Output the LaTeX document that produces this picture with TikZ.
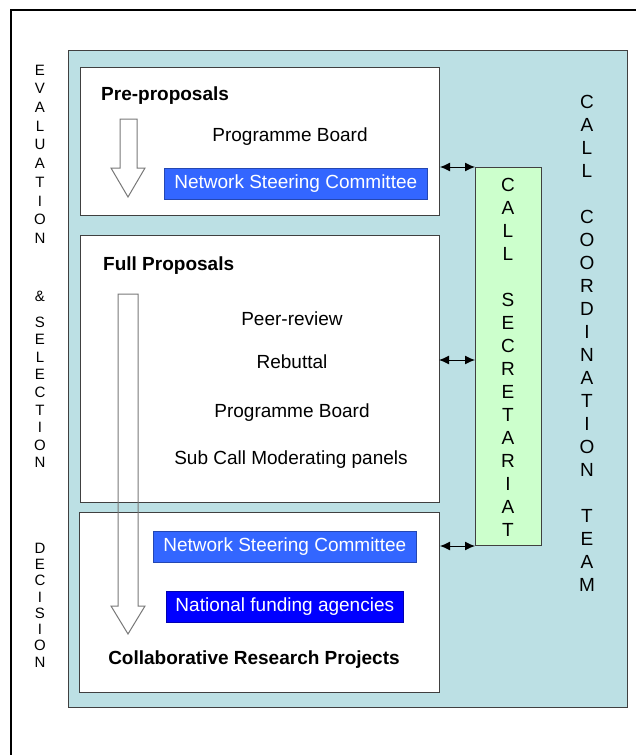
\documentclass[tikz,border=0pt]{standalone}
\usepackage{fontspec}
\setmainfont{Liberation Sans}
\usetikzlibrary{arrows.meta}
\definecolor{tealbg}{RGB}{188,224,228}
\definecolor{secbg}{RGB}{204,255,204}
\definecolor{nscblue}{RGB}{51,102,255}
\definecolor{nfablue}{RGB}{0,0,255}
\definecolor{edgegray}{RGB}{64,64,64}
\definecolor{arrowgray}{RGB}{120,120,120}
\begin{document}
\begin{tikzpicture}[x=1pt,y=-1pt,
  panel/.style={draw=edgegray, line width=1pt, fill=white, anchor=north west, inner sep=0pt},
  bluebox/.style={draw=#1!70!black, line width=0.6pt, fill=#1, anchor=north west, inner sep=0pt, text=white, font=\fontsize{19}{23}\selectfont},
  txt/.style={anchor=base, inner sep=0pt, font=\fontsize{19}{23}\selectfont},
  boldtxt/.style={inner sep=0pt, font=\fontsize{19}{23}\selectfont\bfseries},
  letter/.style={anchor=center, inner sep=0pt, font=\fontsize{19}{23}\selectfont},
  smallletter/.style={anchor=center, inner sep=0pt, font=\fontsize{15}{18}\selectfont},
  dbl/.style={{Latex[length=10pt,width=9pt]}-{Latex[length=10pt,width=9pt]}, line width=1pt, black},
  hollow/.style={draw=arrowgray, line width=1pt}
]
\useasboundingbox (0,0) rectangle (636,755);
% outer frame (only left and top edges visible)
\draw[line width=1.2pt, black] (11,755) -- (11,10) -- (636,10);
% teal background
\node[draw=edgegray, line width=1pt, fill=tealbg, anchor=north west, inner sep=0pt,
      minimum width=559pt, minimum height=657pt] (team) at (68,50) {};
% panels
\node[panel, minimum width=359pt, minimum height=148pt] (pre) at (80,67) {};
\node[panel, minimum width=359pt, minimum height=267pt] (full) at (80,235) {};
\node[panel, minimum width=360pt, minimum height=180pt] (dec) at (79,512) {};
% call secretariat
\node[draw=edgegray, line width=1pt, fill=secbg, anchor=north west, inner sep=0pt,
      minimum width=66pt, minimum height=378pt] (sec) at (475,167) {};
% pre-proposals content
\node[boldtxt, anchor=base west] (pretitle) at (101,100) {Pre-proposals};
\node[txt] (pb1) at (290,141) {Programme Board};
\node[bluebox=nscblue, minimum width=263pt, minimum height=31pt] (nsc1) at (164,168) {Network Steering Committee};
% full proposals content
\node[boldtxt, anchor=base west] (fulltitle) at (103,270) {Full Proposals};
\node[txt] (peer) at (292,325) {Peer-review};
\node[txt] (reb) at (292,368) {Rebuttal};
\node[txt] (pb2) at (292,417) {Programme Board};
\node[txt] (sub) at (291,464) {Sub Call Moderating panels};
% decision content
\node[bluebox=nscblue, minimum width=263pt, minimum height=31pt] (nsc2) at (153,531) {Network Steering Committee};
\node[bluebox=nfablue, minimum width=237pt, minimum height=31pt] (nfa) at (166,591) {National funding agencies};
\node[boldtxt, anchor=base] (crp) at (254,664) {Collaborative Research Projects};
% hollow arrows
\draw[hollow] (120,119) -- (137,119) -- (137,168) -- (145,168) -- (128,197) -- (111,168) -- (120,168) -- cycle;
\draw[hollow] (118,294) -- (138,294) -- (138,606) -- (145,606) -- (128,634) -- (111,606) -- (118,606) -- cycle;
% double arrows between panels and secretariat
\draw[dbl] (pre.east |- sec.north west) -- (sec.north west);
\coordinate (midA) at (439,360);
\draw[dbl] (midA) -- (midA -| sec.west);
\draw[dbl] (dec.east |- sec.south west) -- (sec.south west);
% secretariat letters
\foreach \l [count=\i] in {C,A,L,L,{},S,E,C,R,E,T,A,R,I,A,T} {
  \node[letter] (s\i) at (508,{185+23*(\i-1)}) {\l};
}
% coordination team letters
\foreach \l [count=\i] in {C,A,L,L,{},C,O,O,R,D,I,N,A,T,I,O,N,{},T,E,A,M} {
  \node[letter] (c\i) at (587,{102+23*(\i-1)}) {\l};
}
% left column
\foreach \l [count=\i] in {E,V,A,L,U,A,T,I,O,N} {
  \node[smallletter] (e\i) at (40,{70+18.7*(\i-1)}) {\l};
}
\node[smallletter] (amp) at (40,296) {\&};
\foreach \l [count=\i] in {S,E,L,E,C,T,I,O,N} {
  \node[smallletter] (sl\i) at (40,{322+17.6*(\i-1)}) {\l};
}
\foreach \l [count=\i] in {D,E,C,I,S,I,O,N} {
  \node[smallletter] (d\i) at (40,{548+16.3*(\i-1)}) {\l};
}
\end{tikzpicture}
\end{document}
